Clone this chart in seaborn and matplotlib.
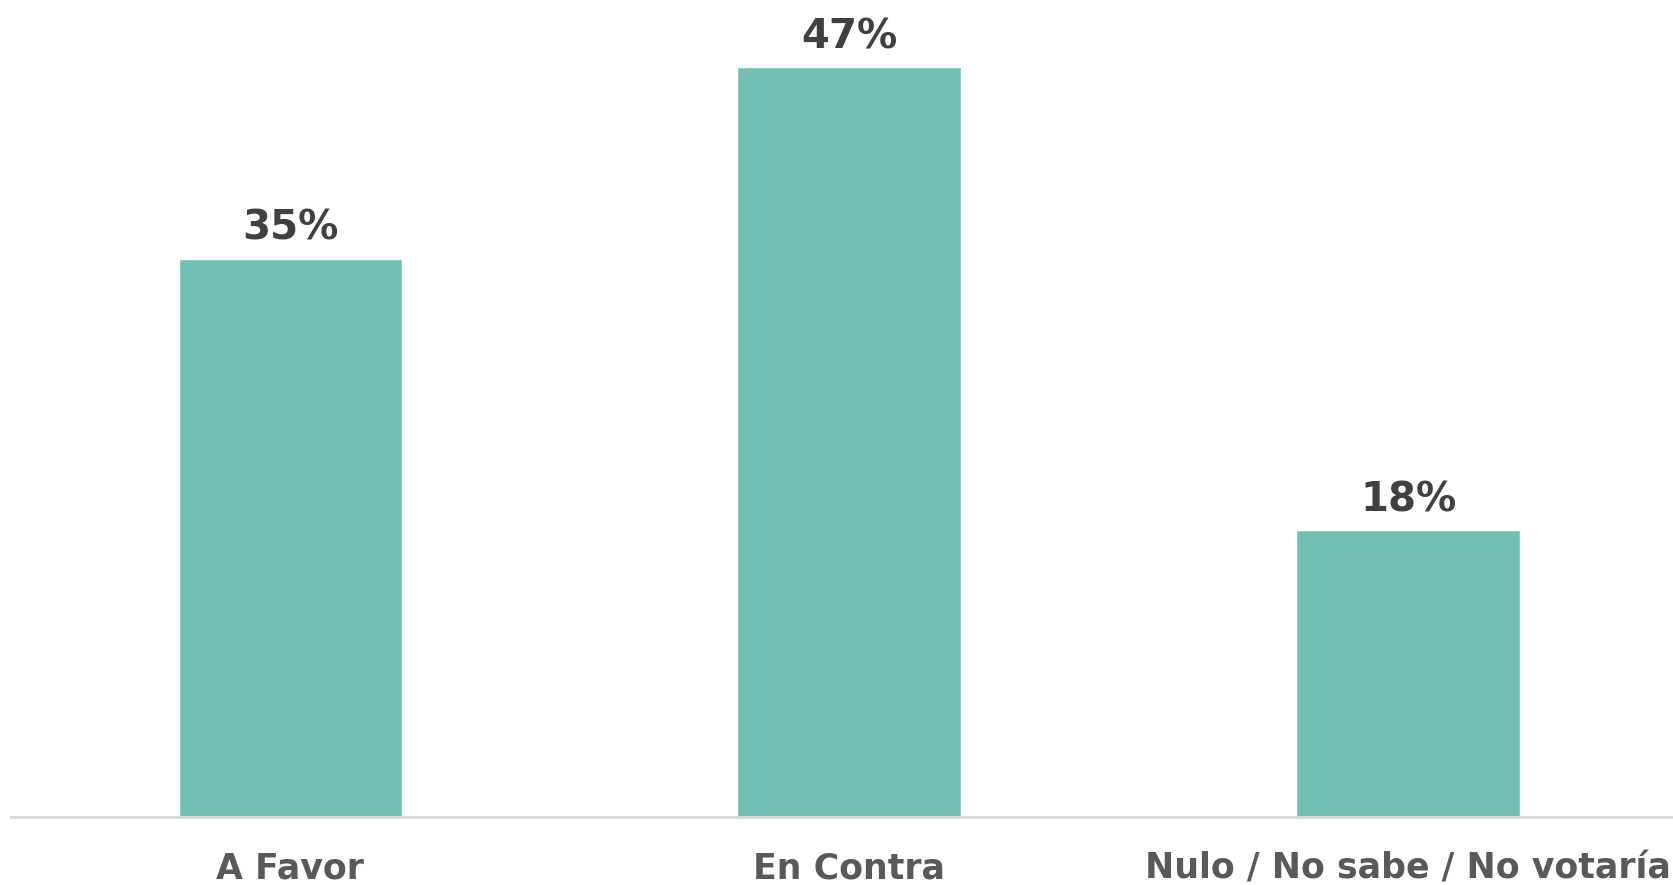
import matplotlib
matplotlib.use("Agg")
import matplotlib.pyplot as plt
import pandas as pd
import seaborn as sns

categories = ["A Favor", "En Contra", "Nulo / No sabe / No votaría"]
values = [35, 47, 18]

BAR_COLOR = "#70C1B3"
VALUE_COLOR = "#404040"
LABEL_COLOR = "#595959"

sns.set_style("white")
plt.rcParams["font.family"] = ["DejaVu Sans"]

df = pd.DataFrame({"categoria": categories, "valor": values})

fig = plt.figure(figsize=(16.73, 8.85), dpi=100)
ax = fig.add_axes([11 / 1673, 68 / 885, 1662 / 1673, 817 / 885])

sns.barplot(data=df, x="categoria", y="valor", color=BAR_COLOR,
            width=0.4, saturation=1, ax=ax)

for cont in ax.containers:
    ax.bar_label(cont, labels=[f"{v}%" for v in values], padding=7,
                 fontsize=29, fontweight="bold", color=VALUE_COLOR)

ax.set_xlim(-0.5, 2.474)
ax.set_ylim(0, 51.2)
ax.set_xlabel("")
ax.set_ylabel("")
ax.set_yticks([])
ax.tick_params(axis="x", length=0, pad=25, labelsize=25, labelcolor=LABEL_COLOR)
for lbl in ax.get_xticklabels():
    lbl.set_fontweight("bold")

for side in ["top", "left", "right"]:
    ax.spines[side].set_visible(False)
ax.spines["bottom"].set_color("#D9D9D9")
ax.spines["bottom"].set_linewidth(2)

fig.savefig("out.png", dpi=100)
